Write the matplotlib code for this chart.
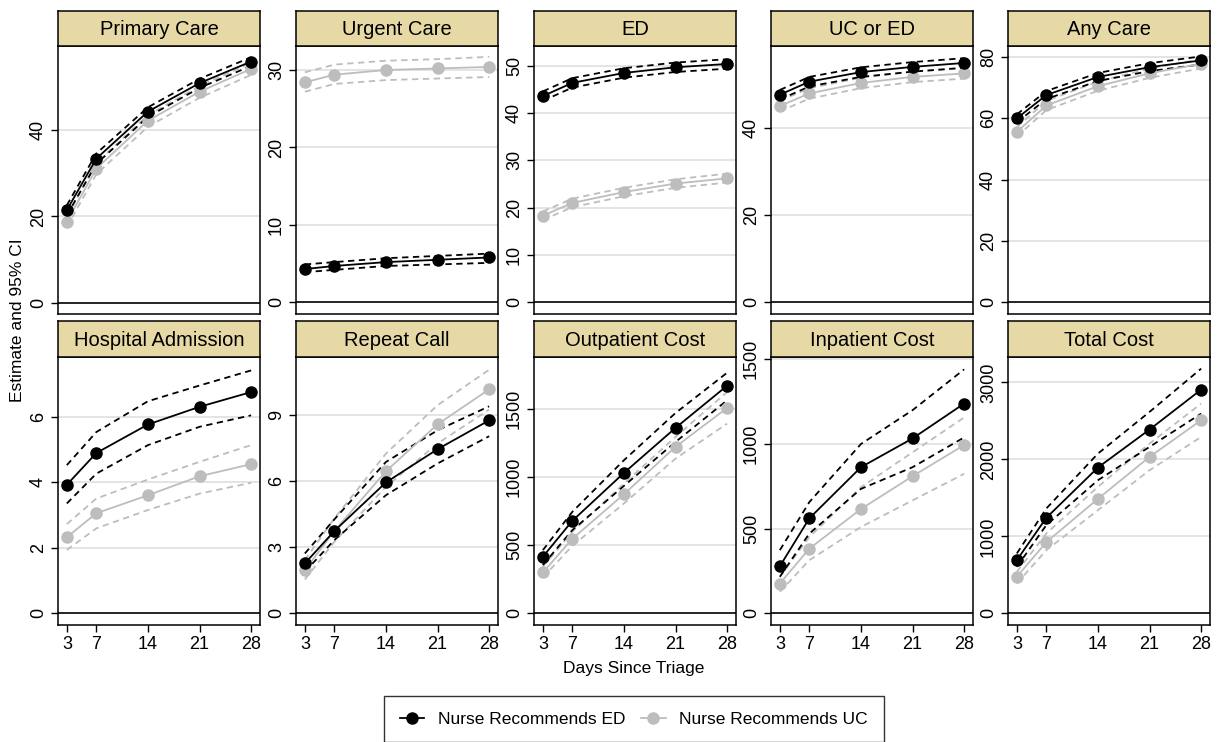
import matplotlib
matplotlib.use("Agg")
import matplotlib.pyplot as plt
from matplotlib.lines import Line2D

plt.rcParams['font.family'] = ['Liberation Sans', 'DejaVu Sans']

# days since triage
days = [3, 7, 14, 21, 28]

# outcomes: estimate, lower CI, upper CI for ED / UC recommendation
titles = ["Primary Care", "Urgent Care", "ED", "UC or ED", "Any Care",
          "Hospital Admission", "Repeat Call", "Outpatient Cost", "Inpatient Cost", "Total Cost"]

primary_ed = [[21.5, 33.4, 44.3, 50.9, 55.9], [20.3, 32.2, 43.1, 49.8, 54.9], [22.6, 34.6, 45.3, 51.9, 56.9]]
primary_uc = [[18.8, 31.1, 42.2, 48.9, 54.2], [17.6, 29.8, 40.8, 47.5, 52.8], [20.0, 32.4, 43.5, 50.2, 55.6]]

urgent_ed = [[4.3, 4.7, 5.2, 5.5, 5.8], [3.9, 4.2, 4.7, 4.9, 5.1], [4.9, 5.2, 5.7, 6.0, 6.3]]
urgent_uc = [[28.4, 29.4, 30.0, 30.2, 30.4], [27.2, 28.2, 28.7, 28.9, 29.1], [29.7, 30.7, 31.2, 31.4, 31.7]]

ed_ed = [[43.6, 46.4, 48.5, 49.7, 50.4], [42.6, 45.4, 47.5, 48.7, 49.4], [44.6, 47.4, 49.5, 50.7, 51.4]]
ed_uc = [[18.3, 21.0, 23.3, 25.1, 26.2], [17.4, 20.1, 22.4, 24.2, 25.3], [19.2, 21.9, 24.2, 26.0, 27.2]]

ucored_ed = [[47.7, 50.7, 52.9, 54.1, 55.0], [46.6, 49.6, 51.8, 53.0, 53.9], [48.8, 51.8, 54.0, 55.2, 56.1]]
ucored_uc = [[45.1, 48.0, 50.4, 51.8, 52.6], [43.9, 46.8, 49.2, 50.6, 51.4], [46.3, 49.2, 51.6, 53.0, 53.8]]

any_ed = [[60.0, 67.6, 73.5, 76.7, 78.9], [58.7, 66.3, 72.2, 75.4, 77.6], [61.3, 68.9, 74.8, 78.0, 80.2]]
any_uc = [[55.6, 64.2, 70.5, 74.7, 77.8], [54.1, 62.7, 69.0, 73.2, 76.3], [57.1, 65.7, 72.0, 76.2, 79.3]]

hosp_ed = [[3.92, 4.89, 5.76, 6.30, 6.75], [3.35, 4.26, 5.13, 5.69, 6.04], [4.52, 5.53, 6.47, 6.95, 7.41]]
hosp_uc = [[2.32, 3.05, 3.60, 4.18, 4.55], [1.93, 2.59, 3.15, 3.65, 3.98], [2.72, 3.50, 4.08, 4.62, 5.13]]

repeat_ed = [[2.27, 3.74, 5.95, 7.46, 8.77], [1.89, 3.33, 5.37, 6.81, 8.05], [2.72, 4.27, 6.88, 8.32, 9.41]]
repeat_uc = [[1.97, 3.74, 6.46, 8.59, 10.18], [1.54, 3.25, 5.75, 7.72, 9.26], [2.42, 4.31, 7.26, 9.46, 11.07]]

outpt_ed = [[415, 678, 1029, 1359, 1668], [354, 610, 934, 1256, 1561], [463, 744, 1122, 1468, 1763]]
outpt_uc = [[300, 546, 873, 1220, 1505], [263, 495, 805, 1134, 1390], [341, 598, 951, 1293, 1622]]

inpt_ed = [[278, 561, 863, 1033, 1239], [216, 471, 735, 863, 1039], [373, 657, 1000, 1200, 1441]]
inpt_uc = [[176, 382, 616, 810, 994], [127, 314, 510, 667, 824], [216, 451, 745, 951, 1157]]

total_ed = [[692, 1241, 1894, 2387, 2905], [605, 1146, 1729, 2162, 2594], [778, 1362, 2075, 2616, 3178]]
total_uc = [[476, 925, 1487, 2032, 2508], [389, 821, 1340, 1859, 2291], [540, 1038, 1643, 2205, 2724]]

ed_series = [primary_ed, urgent_ed, ed_ed, ucored_ed, any_ed, hosp_ed, repeat_ed, outpt_ed, inpt_ed, total_ed]
uc_series = [primary_uc, urgent_uc, ed_uc, ucored_uc, any_uc, hosp_uc, repeat_uc, outpt_uc, inpt_uc, total_uc]

yticks = [[0, 20, 40], [0, 10, 20, 30], [0, 10, 20, 30, 40, 50], [0, 20, 40], [0, 20, 40, 60, 80],
          [0, 2, 4, 6], [0, 3, 6, 9], [0, 500, 1000, 1500], [0, 500, 1000, 1500], [0, 1000, 2000, 3000]]
ylims = [(-2.6, 59.5), (-1.5, 33.1), (-2.5, 54.2), (-2.7, 58.9), (-3.8, 83.6),
         (-0.36, 7.82), (-0.53, 11.65), (-85, 1878), (-69, 1514), (-151, 3329)]

W, H = 1221, 742
fig = plt.figure(figsize=(W / 100, H / 100), dpi=100)

black = "black"
gray = "#bdbdbd"
strip_col = "#e6d9a5"
lefts = [58, 296, 534, 771, 1008]
pw = 202
rows = [(11, 46, 314), (321, 357, 625)]  # strip top, plot top, plot bottom
lw = 1.3
ms = 8

for i in range(10):
    r, c = divmod(i, 5)
    st, pt, pb = rows[r]
    x0 = lefts[c]
    ax = fig.add_axes([x0 / W, 1 - pb / H, pw / W, (pb - pt) / H])
    sax = fig.add_axes([x0 / W, 1 - pt / H, pw / W, (pt - st) / H])
    sax.set_facecolor(strip_col)
    sax.set_xticks([])
    sax.set_yticks([])
    for s in sax.spines.values():
        s.set_linewidth(1.1)
    sax.text(0.5, 0.47, titles[i], ha="center", va="center", fontsize=14.5, transform=sax.transAxes)

    for tk in yticks[i][1:]:
        ax.axhline(tk, color="#dddddd", lw=1.1, zorder=0)
    ax.axhline(0, color="black", lw=1.2, zorder=1)

    for ser, col in [(uc_series[i], gray), (ed_series[i], black)]:
        est, lo, hi = ser
        ax.plot(days, lo, color=col, lw=lw, ls=(0, (3.5, 2.5)), zorder=2)
        ax.plot(days, hi, color=col, lw=lw, ls=(0, (3.5, 2.5)), zorder=2)
        ax.plot(days, est, color=col, lw=lw, marker="o", ms=ms, zorder=3)

    ax.set_xlim(1.8, 29.2)
    ax.set_ylim(*ylims[i])
    ax.set_yticks(yticks[i])
    ax.set_yticklabels([str(t) for t in yticks[i]], rotation=90, va="center", fontsize=13)
    ax.tick_params(axis="y", length=5, width=1.0, pad=3)
    ax.set_xticks(days)
    if r == 0:
        ax.tick_params(axis="x", length=0, labelbottom=False)
    else:
        ax.tick_params(axis="x", length=5, width=1.0, labelsize=13, pad=3)
    for s in ax.spines.values():
        s.set_linewidth(1.1)

fig.text(634 / W, 1 - 668 / H, "Days Since Triage", ha="center", va="center", fontsize=12.5)
fig.text(18 / W, 1 - 320 / H, "Estimate and 95% CI", ha="center", va="center", rotation=90, fontsize=12.5)

handles = [Line2D([], [], color=black, lw=lw, marker="o", ms=ms),
           Line2D([], [], color=gray, lw=lw, marker="o", ms=ms)]
leg = fig.legend(handles, ["Nurse Recommends ED", "Nurse Recommends UC"], ncol=2,
                 loc="upper center", bbox_to_anchor=(634 / W, 1 - 696 / H), fontsize=12.5,
                 frameon=True, fancybox=False, edgecolor="black", handlelength=1.4,
                 handletextpad=0.8, columnspacing=0.9, borderpad=0.9, borderaxespad=0)
leg.get_frame().set_linewidth(1.0)

fig.savefig("out.png", dpi=100)
